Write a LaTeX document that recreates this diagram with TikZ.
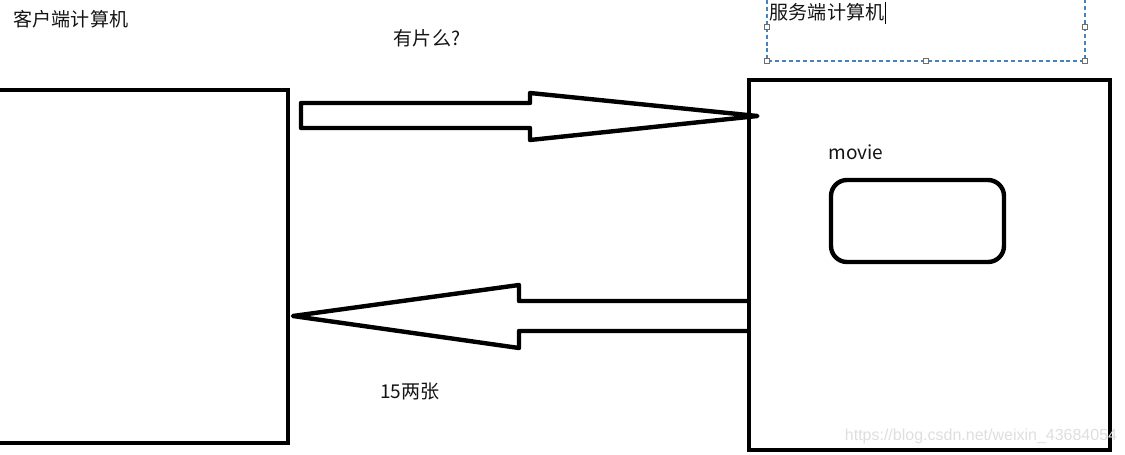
\documentclass[tikz,border=0pt]{standalone}
\usepackage{fontspec}
\setmainfont{Noto Sans CJK SC}
\usetikzlibrary{positioning}
\definecolor{cLine}{RGB}{0, 0, 0}
\definecolor{cSel}{RGB}{70, 130, 190}
\definecolor{cHandle}{RGB}{110, 110, 110}
\definecolor{cMark}{RGB}{222, 222, 222}
\definecolor{tDark}{RGB}{20, 20, 20}

\begin{document}
\begin{tikzpicture}[
    x=0.75pt, y=-0.75pt,
    font=\fontsize{14.3}{16}\selectfont,
    box/.style={
        draw=cLine,
        line width=3.3pt,
        inner sep=0pt
    },
    hollow/.style={draw=cLine, line width=3.3pt, line join=round},
    label/.style={text=tDark, inner sep=0pt},
    handle/.style={draw=cHandle, fill=white, line width=0.6pt,
        minimum size=3.5pt, inner sep=0pt}
]

\useasboundingbox (0,0) rectangle (1125,454);
\clip (0,0) rectangle (1125,454);

% the two computers
\node[box, minimum width=223.5pt, minimum height=264.75pt] (client) at (139,266.5) {};
\node[box, minimum width=270.75pt, minimum height=277.5pt] (server) at (929.5,265) {};
\node[box, rounded corners=12pt, minimum width=129.75pt, minimum height=61.5pt] (movie) at (917.5,221) {};

% labels
\node[label] (clientlbl) at (71,19) {客户端计算机};
\node[label] (serverlbl) at (827,12) {服务端计算机};
\node[label] (movielbl) at (856,152) {movie};
\node[label] (ask) at (427,38) {有片么?};
\node[label] (reply) at (410,391) {15两张};
\draw[line width=0.8pt] ([xshift=1pt,yshift=1pt]serverlbl.north east) -- ([xshift=1pt,yshift=-2pt]serverlbl.south east);

% text box selection
\draw[cSel, line width=0.8pt, dash pattern=on 3pt off 2.2pt] (767,-7) rectangle (1085,61);
\foreach \hx/\hy [count=\i] in {767/27, 1085/27, 767/61, 926/61, 1085/61}
    \node[handle] (h\i) at (\hx,\hy) {};

% request arrow
\coordinate (reqtip) at ([xshift=8]server.west |- 0,116);
\draw[hollow] (301,103) -- (530,103) -- (530,93) -- (reqtip)
    -- (530,140) -- (530,128) -- (301,128) -- cycle;

% answer arrow
\coordinate (anstip) at ([xshift=2]client.east |- 0,316);
\draw[hollow] (server.west |- 0,301) -- (519,301) -- (519,285) -- (anstip)
    -- (519,348) -- (519,331) -- (server.west |- 0,331);

% watermark
\node[text=cMark, inner sep=0pt, font=\fontsize{12}{14}\selectfont\fontspec{Liberation Sans}] (mark) at (981,436) {https://blog.csdn.net/weixin\_43684054};

\end{tikzpicture}
\end{document}
